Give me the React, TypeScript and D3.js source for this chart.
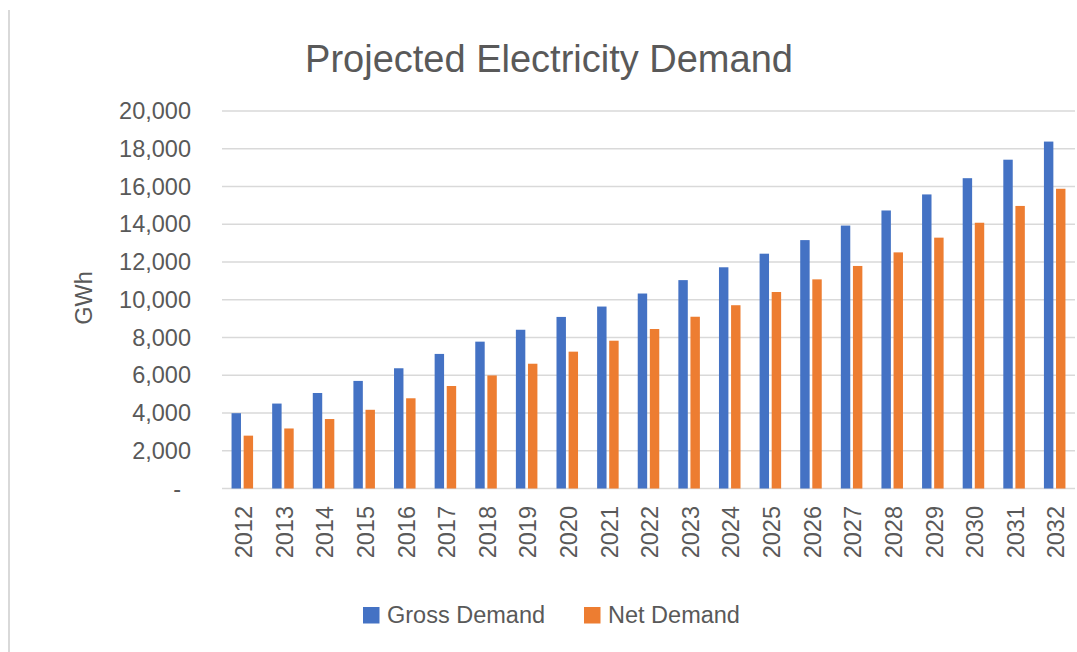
import React from "react";
import * as d3 from "d3";

const years = ["2012","2013","2014","2015","2016","2017","2018","2019","2020","2021","2022","2023","2024","2025","2026","2027","2028","2029","2030","2031","2032"];
const grossDemand = [3990, 4500, 5060, 5700, 6370, 7130, 7780, 8410, 9090, 9640, 10330, 11040, 11720, 12440, 13160, 13930, 14730, 15580, 16440, 17420, 18380];
const netDemand = [2800, 3180, 3680, 4170, 4780, 5430, 5990, 6610, 7250, 7830, 8450, 9100, 9710, 10410, 11080, 11790, 12510, 13290, 14080, 14970, 15880];
const seriesNames = ["Gross Demand", "Net Demand"];
const yTicks = [0, 2000, 4000, 6000, 8000, 10000, 12000, 14000, 16000, 18000, 20000];

const W = 1077;
const H = 652;
const FONT = "'Liberation Sans', Arial, sans-serif";
const TEXT = "#595959";
const GRID = "#D9D9D9";
const COLORS = ["#4472C4", "#ED7D31"];

export default function App() {
  const x0 = d3.scaleBand<string>().domain(years).range([222, 1075]).paddingInner(0.47).paddingOuter(0.235);
  const x1 = d3.scaleBand<string>().domain(seriesNames).range([0, x0.bandwidth()]).paddingInner(0.22);
  const y = d3.scaleLinear().domain([0, 20000]).range([488.5, 111]);
  const fmt = d3.format(",");
  const series = [grossDemand, netDemand];

  return (
    <svg width={W} height={H} style={{ position: "absolute", left: 0, top: 0, background: "#fff" }} fontFamily={FONT}>
      <rect x={0} y={0} width={W} height={H} fill="#fff" />
      <line x1={9} x2={9} y1={10} y2={H} stroke={GRID} strokeWidth={2} />
      <text x={549} y={72} textAnchor="middle" fontSize={38} fill={TEXT}>Projected Electricity Demand</text>

      {yTicks.map((t) => (
        <g key={t}>
          <line x1={222} x2={1075} y1={y(t)} y2={y(t)} stroke={GRID} strokeWidth={1.5} />
          <text x={t === 0 ? 181 : 191} y={y(t)} dy="0.35em" textAnchor="end" fontSize={23.5} fill={TEXT}>
            {t === 0 ? "-" : fmt(t)}
          </text>
        </g>
      ))}

      <text transform={`translate(92,298) rotate(-90)`} textAnchor="middle" fontSize={23.5} fill={TEXT}>GWh</text>

      {years.map((yr, i) => (
        <g key={yr} transform={`translate(${x0(yr)},0)`}>
          {series.map((s, j) => (
            <rect
              key={j}
              x={x1(seriesNames[j])}
              y={y(s[i])}
              width={x1.bandwidth()}
              height={y(0) - y(s[i])}
              fill={COLORS[j]}
            />
          ))}
        </g>
      ))}

      {years.map((yr) => {
        const cx = (x0(yr) as number) + x0.bandwidth() / 2 + 1.5;
        return (
          <text key={yr} transform={`translate(${cx},506) rotate(-90)`} dy="0.35em" textAnchor="end" fontSize={23.5} fill={TEXT}>
            {yr}
          </text>
        );
      })}

      <g>
        <rect x={363} y={607} width={16.5} height={16.5} fill={COLORS[0]} />
        <text x={387} y={623} fontSize={23.5} fill={TEXT}>{seriesNames[0]}</text>
        <rect x={584} y={607} width={16.5} height={16.5} fill={COLORS[1]} />
        <text x={608} y={623} fontSize={23.5} fill={TEXT}>{seriesNames[1]}</text>
      </g>
    </svg>
  );
}
